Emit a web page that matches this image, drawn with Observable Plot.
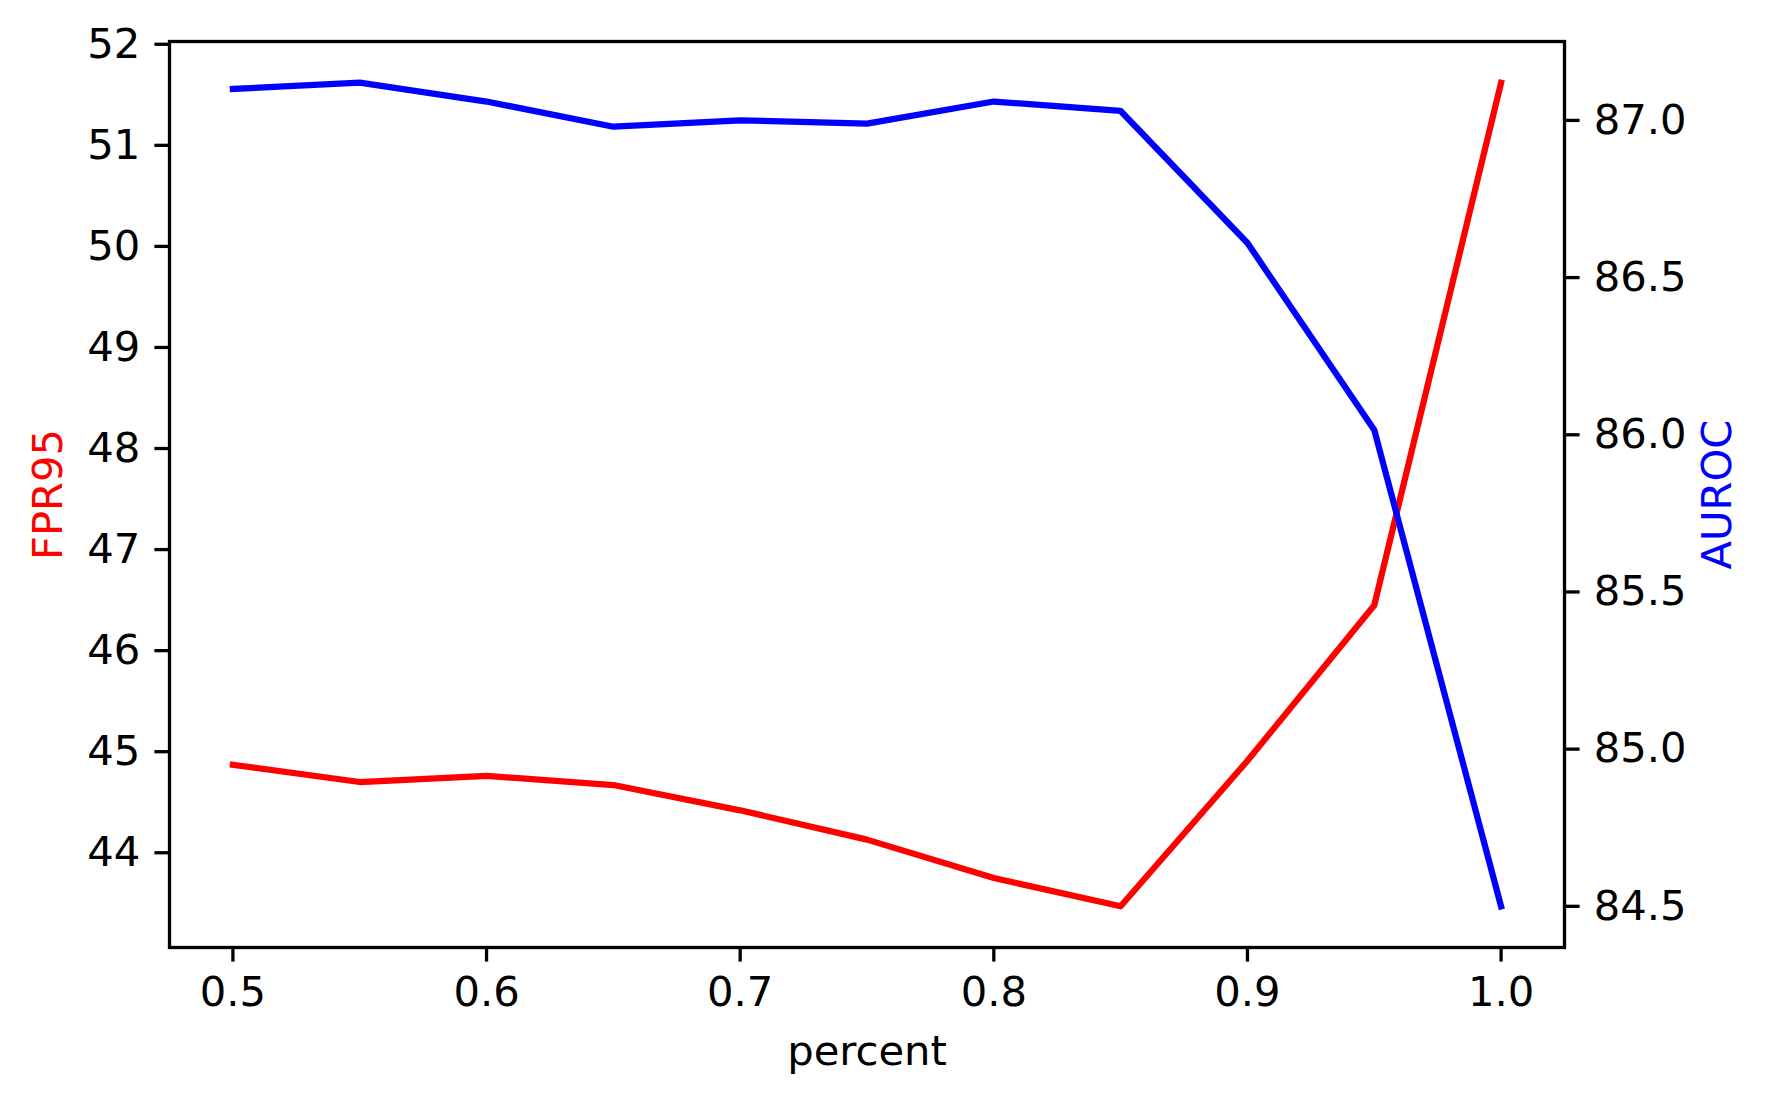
<!DOCTYPE html>
<html>
<head>
<meta charset="utf-8">
<script src="https://cdn.jsdelivr.net/npm/d3@7"></script>
<script src="https://cdn.jsdelivr.net/npm/@observablehq/plot@0.6"></script>
<style>
  html, body { margin: 0; padding: 0; background: #fff; }
  svg { display: block; }
</style>
</head>
<body>
<div id="chart"></div>
<script>
const percent = [0.5, 0.55, 0.6, 0.65, 0.7, 0.75, 0.8, 0.85, 0.9, 0.95, 1.0];
const fpr95 = [44.87, 44.70, 44.76, 44.67, 44.42, 44.13, 43.75, 43.47, 44.91, 46.45, 51.62];
const auroc = [87.10, 87.12, 87.06, 86.98, 87.00, 86.99, 87.06, 87.03, 86.61, 86.015, 84.50];
const xTicks = [0.5, 0.6, 0.7, 0.8, 0.9, 1.0];
const fprTicks = [44, 45, 46, 47, 48, 49, 50, 51, 52];
const aurocTicks = [84.5, 85.0, 85.5, 86.0, 86.5, 87.0];

// matplotlib-style 5% margins
function padded(vals) {
  const [a, b] = d3.extent(vals);
  const m = (b - a) * 0.05;
  return [a - m, b + m];
}
const xDom = padded(percent);
const leftDom = padded(fpr95);
const rightDom = padded(auroc);
// map AUROC values onto the left (FPR95) scale and back
const toLeft = d3.scaleLinear().domain(rightDom).range(leftDom);
const toRight = toLeft.copy().domain(leftDom).range(rightDom);

const fprData = percent.map((p, i) => ({p, v: fpr95[i]}));
const aurocData = percent.map((p, i) => ({p, v: toLeft(auroc[i])}));

const FS = 41.7;
const TICK = 14.6;
const font = "DejaVu Sans";

const chart = Plot.plot({
  width: 1772,
  height: 1103,
  marginLeft: 169,
  marginRight: 208,
  marginTop: 41,
  marginBottom: 156,
  style: {fontFamily: font, fontSize: FS + "px", background: "#fff", color: "#000"},
  x: {domain: xDom},
  y: {domain: leftDom},
  marks: [
    Plot.axisX(xTicks, {
      anchor: "bottom", tickSize: TICK, tickPadding: TICK, strokeWidth: 3.3,
      fontSize: FS, tickFormat: d => d.toFixed(1), label: null
    }),
    Plot.axisY(fprTicks, {
      anchor: "left", tickSize: TICK, tickPadding: TICK, strokeWidth: 3.3,
      fontSize: FS, tickFormat: d => String(d), label: null
    }),
    Plot.axisY(aurocTicks.map(d => toLeft(d)), {
      anchor: "right", tickSize: TICK, tickPadding: TICK, strokeWidth: 3.3,
      fontSize: FS, tickFormat: d => toRight(d).toFixed(1), label: null
    }),
    Plot.line(fprData, {x: "p", y: "v", stroke: "#ff0000", strokeWidth: 6.25,
      strokeLinejoin: "round", strokeLinecap: "square"}),
    Plot.line(aurocData, {x: "p", y: "v", stroke: "#0000ff", strokeWidth: 6.25,
      strokeLinejoin: "round", strokeLinecap: "square"}),
    Plot.frame({stroke: "#000", strokeWidth: 3.3}),
    Plot.text(["percent"], {frameAnchor: "bottom", dy: 104, lineAnchor: "middle",
      text: d => d, fontSize: FS, fill: "#000"}),
    Plot.text(["FPR95"], {frameAnchor: "left", dx: -121, rotate: -90, lineAnchor: "middle",
      textAnchor: "middle", text: d => d, fontSize: FS, fill: "#ff0000"}),
    Plot.text(["AUROC"], {frameAnchor: "right", dx: 153.5, rotate: -90, lineAnchor: "middle",
      textAnchor: "middle", text: d => d, fontSize: FS, fill: "#0000ff"})
  ]
});
document.getElementById("chart").appendChild(chart);
</script>
</body>
</html>
